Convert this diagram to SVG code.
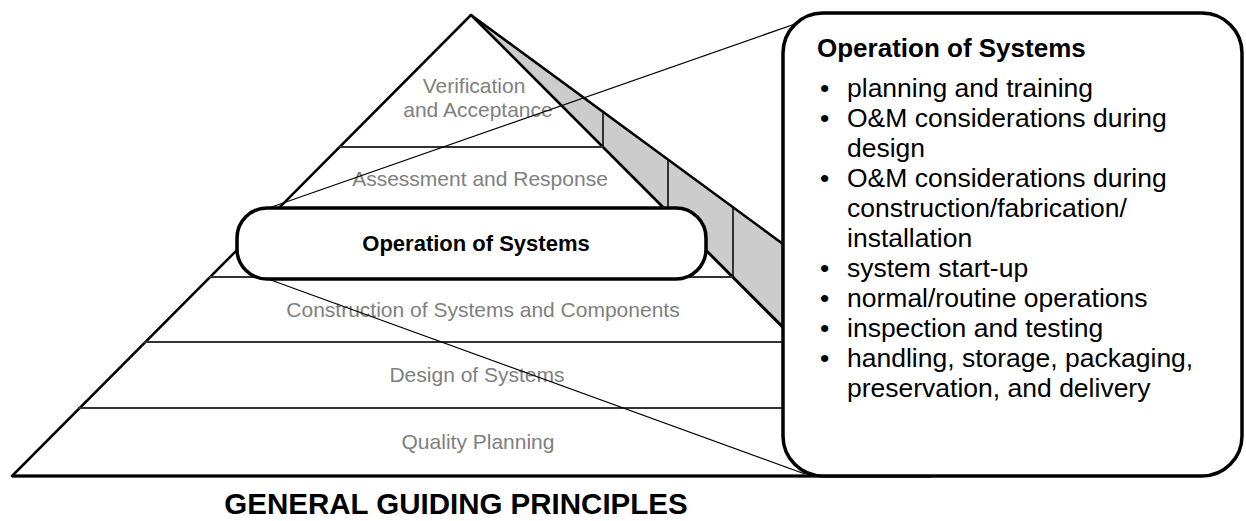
<svg xmlns="http://www.w3.org/2000/svg" width="1246" height="521" viewBox="0 0 1246 521">
<style>
.lbl{font-family:"Liberation Sans",Arial,sans-serif;font-size:21px;fill:#808080;text-anchor:middle}
.bold{font-family:"Liberation Sans",Arial,sans-serif;font-weight:bold;fill:#000}
.txt{font-family:"Liberation Sans",Arial,sans-serif;font-size:26.5px;fill:#000}
.layer{stroke:#333;stroke-width:2}
.vert{stroke:#000;stroke-width:1.5}
.conn{stroke:#000;stroke-width:1.3;fill:none}
.box{fill:#fff;stroke:#000;stroke-width:3.5}
</style>
<rect width="1246" height="521" fill="#fff"/>
<g id="pyramid">
  <polygon id="side-face" points="471,15 783,244 783,327" fill="#ccc" stroke="#000" stroke-width="2.5" stroke-linejoin="round"/>
  <polygon id="front-face" points="471,15 12,476 931,476" fill="#fff" stroke="#000" stroke-width="2.5" stroke-linejoin="round"/>
  <line class="vert" x1="603" y1="112" x2="603" y2="147"/>
  <line class="vert" x1="668" y1="160" x2="668" y2="212"/>
  <line class="vert" x1="733" y1="208" x2="733" y2="277"/>
  <line class="layer" x1="339" y1="147" x2="603" y2="147"/>
  <line class="layer" x1="274" y1="212" x2="668" y2="212"/>
  <line class="layer" x1="209" y1="277" x2="733" y2="277"/>
  <line class="layer" x1="144" y1="342" x2="798" y2="342"/>
  <line class="layer" x1="78" y1="408" x2="864" y2="408"/>
  <line x1="12" y1="476" x2="931" y2="476" stroke="#000" stroke-width="3"/>
  <g id="layer-verification"><text class="lbl" x="474" y="93">Verification</text><text class="lbl" x="478" y="117">and Acceptance</text></g>
  <g id="layer-assessment"><text class="lbl" x="480" y="186">Assessment and Response</text></g>
  <g id="layer-construction"><text class="lbl" x="483" y="317">Construction of Systems and Components</text></g>
  <g id="layer-design"><text class="lbl" x="477" y="382">Design of Systems</text></g>
  <g id="layer-quality"><text class="lbl" x="478" y="449">Quality Planning</text></g>
</g>
<g id="connectors">
  <line class="conn" x1="795" y1="24" x2="266" y2="209"/>
  <line class="conn" x1="268" y1="279" x2="805" y2="474"/>
</g>
<g id="operation-box">
  <rect class="box" x="237" y="208" width="469" height="71" rx="30" ry="30"/>
  <text class="bold" x="476" y="251" font-size="22" text-anchor="middle">Operation of Systems</text>
</g>
<g id="callout">
  <rect class="box" x="783" y="13" width="459" height="463" rx="40" ry="40"/>
  <text class="bold" x="817" y="57" font-size="26">Operation of Systems</text>
  <g class="txt">
    <text x="820" y="97">•</text><text x="847" y="97">planning and training</text>
    <text x="820" y="127">•</text><text x="847" y="127">O&amp;M considerations during</text>
    <text x="847" y="157">design</text>
    <text x="820" y="187">•</text><text x="847" y="187">O&amp;M considerations during</text>
    <text x="847" y="217">construction/fabrication/</text>
    <text x="847" y="247">installation</text>
    <text x="820" y="277">•</text><text x="847" y="277">system start-up</text>
    <text x="820" y="307">•</text><text x="847" y="307">normal/routine operations</text>
    <text x="820" y="337">•</text><text x="847" y="337">inspection and testing</text>
    <text x="820" y="367">•</text><text x="847" y="367">handling, storage, packaging,</text>
    <text x="847" y="397">preservation, and delivery</text>
  </g>
</g>
<g id="title">
  <text class="bold" x="456" y="514" font-size="29.5" text-anchor="middle">GENERAL GUIDING PRINCIPLES</text>
</g>
</svg>
